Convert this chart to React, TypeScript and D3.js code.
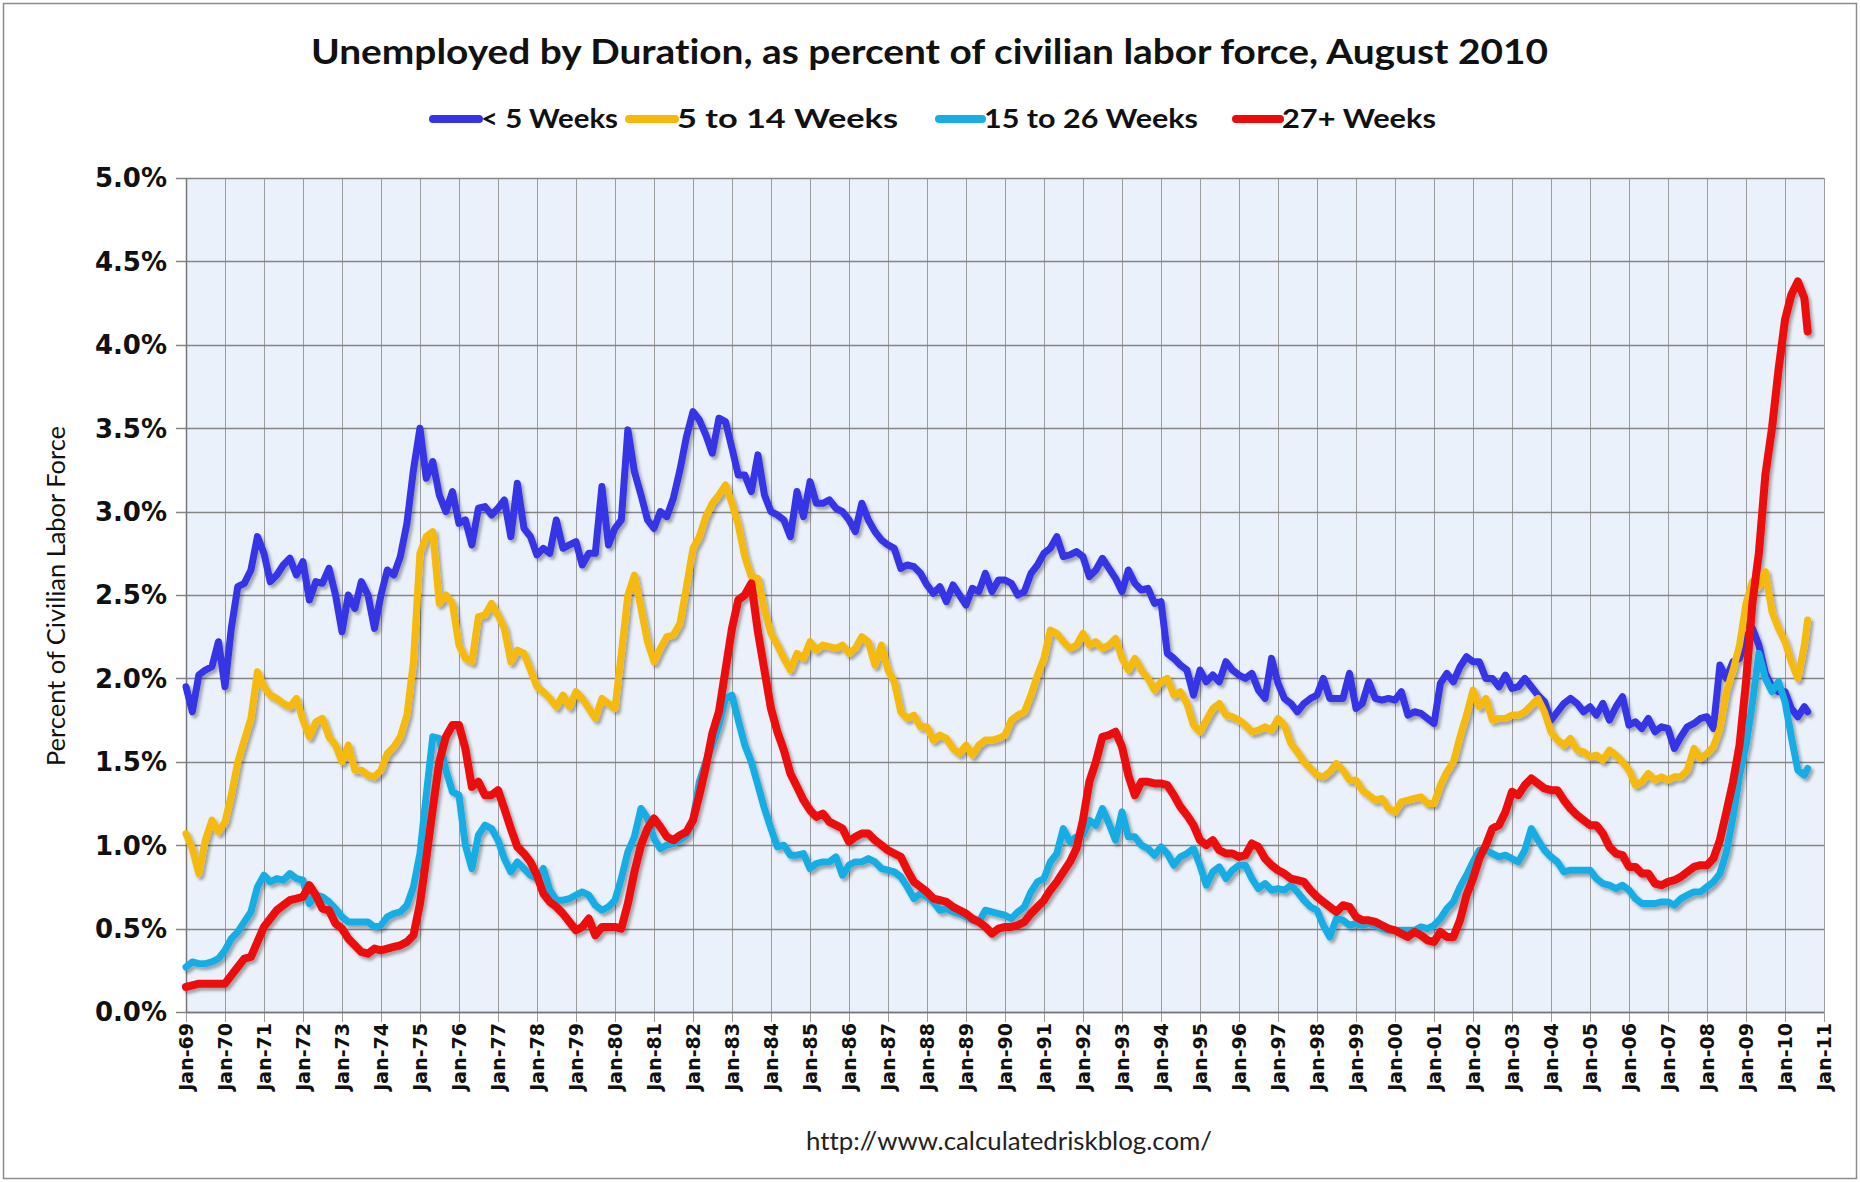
import React from 'react';
import * as d3 from 'd3';

const TITLE = 'Unemployed by Duration, as percent of civilian labor force, August 2010';
const Y_TITLE = 'Percent of Civilian Labor Force';
const SOURCE = 'http://www.calculatedriskblog.com/';
const SERIES_NAMES = ['< 5 Weeks', '5 to 14 Weeks', '15 to 26 Weeks', '27+ Weeks'];
const SERIES_COLORS = ['#3434e6', '#f6b90a', '#19ade5', '#ec0a0a'];
const Y_TICKS = [0, 0.5, 1, 1.5, 2, 2.5, 3, 3.5, 4, 4.5, 5];
const X_TICK_YEARS = [1969,1970,1971,1972,1973,1974,1975,1976,1977,1978,1979,1980,1981,1982,1983,1984,1985,1986,1987,1988,1989,1990,1991,1992,1993,1994,1995,1996,1997,1998,1999,2000,2001,2002,2003,2004,2005,2006,2007,2008,2009,2010,2011];

// Values every two months (Jan, Mar, May, Jul, Sep, Nov) from Jan 1969 to Jul 2010, last value = Aug 2010
const LT5_WEEKS = [
1.95,1.8,2.02,2.05,2.07,2.22, 1.95,2.3,2.55,2.57,2.65,2.85, 2.75,2.58,2.62,2.68,2.72,2.62, 2.7,2.47,2.58,2.57,2.66,2.5,
2.28,2.5,2.42,2.58,2.5,2.3, 2.5,2.65,2.62,2.73,2.93,3.25, 3.5,3.2,3.3,3.1,3.0,3.12, 2.93,2.95,2.8,3.02,3.03,2.98,
3.02,3.07,2.85,3.17,2.9,2.85, 2.74,2.78,2.75,2.95,2.78,2.8, 2.82,2.68,2.75,2.75,3.15,2.8, 2.9,2.95,3.49,3.24,3.1,2.95,
2.9,3.0,2.97,3.08,3.25,3.45, 3.6,3.55,3.46,3.35,3.56,3.54, 3.38,3.22,3.22,3.12,3.34,3.1, 3.0,2.98,2.95,2.85,3.12,2.97,
3.18,3.05,3.05,3.07,3.02,3.0, 2.95,2.88,3.05,2.95,2.88,2.83, 2.8,2.78,2.66,2.68,2.67,2.63, 2.56,2.51,2.55,2.46,2.56,2.5,
2.44,2.54,2.52,2.63,2.52,2.59, 2.59,2.57,2.5,2.52,2.63,2.68, 2.75,2.78,2.85,2.73,2.74,2.76, 2.73,2.61,2.65,2.72,2.66,2.6,
2.52,2.65,2.57,2.53,2.54,2.45, 2.46,2.15,2.12,2.08,2.05,1.9, 2.05,1.98,2.02,1.98,2.1,2.05, 2.02,2.0,2.03,1.93,1.88,2.12,
1.97,1.88,1.85,1.8,1.85,1.88, 1.9,2.0,1.88,1.88,1.88,2.03, 1.82,1.85,1.98,1.88,1.87,1.88, 1.87,1.92,1.78,1.8,1.79,1.76,
1.73,1.97,2.03,1.98,2.07,2.13, 2.1,2.1,2.0,2.0,1.95,2.02, 1.94,1.95,2.0,1.95,1.9,1.86, 1.75,1.8,1.85,1.88,1.85,1.8,
1.83,1.78,1.85,1.75,1.83,1.89, 1.72,1.74,1.7,1.76,1.68,1.71, 1.7,1.58,1.65,1.71,1.73,1.76, 1.77,1.7,2.08,2.0,2.1,2.12,
2.25,2.3,2.2,2.03,1.95,1.92, 1.92,1.82,1.77,1.83, 1.8
];
const W5_14 = [
1.07,0.98,0.83,1.03,1.15,1.08, 1.14,1.3,1.5,1.63,1.76,2.04, 1.95,1.9,1.88,1.85,1.83,1.88, 1.75,1.65,1.74,1.76,1.65,1.6,
1.5,1.6,1.45,1.45,1.42,1.41, 1.45,1.55,1.59,1.65,1.78,2.1, 2.75,2.85,2.88,2.45,2.5,2.45, 2.2,2.12,2.1,2.37,2.38,2.45,
2.38,2.3,2.1,2.17,2.15,2.05, 1.95,1.92,1.88,1.83,1.9,1.83, 1.92,1.88,1.82,1.76,1.88,1.85, 1.82,2.15,2.5,2.62,2.42,2.22,
2.1,2.18,2.25,2.26,2.33,2.55, 2.78,2.85,2.97,3.05,3.1,3.16, 3.05,2.92,2.73,2.61,2.6,2.41, 2.27,2.2,2.12,2.05,2.15,2.12,
2.22,2.17,2.2,2.19,2.18,2.2, 2.15,2.18,2.25,2.22,2.08,2.2, 2.05,1.98,1.8,1.76,1.78,1.71, 1.71,1.63,1.66,1.64,1.58,1.55,
1.6,1.54,1.6,1.63,1.63,1.64, 1.66,1.75,1.78,1.8,1.9,2.02, 2.12,2.29,2.27,2.22,2.18,2.2, 2.27,2.2,2.22,2.18,2.2,2.24,
2.12,2.05,2.12,2.05,2.0,1.93, 1.98,2.0,1.9,1.92,1.85,1.72, 1.68,1.75,1.82,1.85,1.78,1.77, 1.75,1.72,1.68,1.69,1.71,1.69,
1.76,1.72,1.61,1.56,1.5,1.46, 1.42,1.41,1.44,1.49,1.45,1.39, 1.39,1.33,1.3,1.27,1.28,1.22, 1.2,1.26,1.27,1.28,1.29,1.25,
1.25,1.36,1.44,1.5,1.65,1.78, 1.93,1.83,1.88,1.75,1.76,1.76, 1.78,1.78,1.8,1.84,1.88,1.8, 1.68,1.63,1.6,1.64,1.57,1.56,
1.53,1.54,1.51,1.57,1.54,1.5, 1.45,1.36,1.38,1.43,1.39,1.41, 1.39,1.41,1.41,1.45,1.58,1.52, 1.55,1.59,1.7,1.92,2.05,2.2,
2.45,2.58,2.55,2.64,2.4,2.3, 2.22,2.1,2.0,2.2, 2.35
];
const W15_26 = [
0.27,0.3,0.29,0.29,0.3,0.32, 0.37,0.44,0.48,0.54,0.6,0.75, 0.82,0.78,0.8,0.79,0.83,0.8, 0.79,0.65,0.7,0.69,0.66,0.62,
0.57,0.54,0.54,0.54,0.54,0.51, 0.52,0.57,0.59,0.6,0.64,0.75, 0.95,1.3,1.65,1.64,1.45,1.32, 1.3,1.0,0.86,1.06,1.12,1.1,
1.03,0.92,0.84,0.9,0.86,0.82, 0.8,0.86,0.73,0.67,0.67,0.68, 0.7,0.72,0.7,0.64,0.61,0.63, 0.67,0.8,0.96,1.05,1.22,1.16,
1.04,0.98,1.0,1.01,1.03,1.06, 1.15,1.38,1.5,1.6,1.72,1.88, 1.9,1.75,1.6,1.5,1.36,1.22, 1.1,0.99,1.0,0.94,0.94,0.95,
0.86,0.89,0.9,0.9,0.93,0.82, 0.88,0.9,0.9,0.92,0.9,0.86, 0.85,0.84,0.81,0.75,0.68,0.71, 0.69,0.66,0.61,0.62,0.6,0.59,
0.57,0.55,0.54,0.61,0.6,0.59, 0.58,0.56,0.6,0.63,0.72,0.78, 0.8,0.9,0.95,1.1,1.02,1.05, 1.06,1.15,1.12,1.22,1.13,1.03,
1.2,1.05,1.05,1.0,0.98,0.94, 0.99,0.95,0.88,0.93,0.95,0.98, 0.88,0.76,0.84,0.87,0.8,0.85, 0.88,0.88,0.8,0.74,0.77,0.73,
0.74,0.73,0.76,0.72,0.67,0.63, 0.61,0.52,0.45,0.56,0.55,0.52, 0.53,0.52,0.53,0.52,0.5,0.49, 0.49,0.49,0.49,0.49,0.51,0.5,
0.52,0.56,0.62,0.66,0.75,0.82, 0.9,0.97,0.97,0.95,0.93,0.94, 0.92,0.9,0.97,1.1,1.03,0.97, 0.93,0.9,0.84,0.85,0.85,0.85,
0.85,0.8,0.77,0.76,0.74,0.76, 0.73,0.68,0.65,0.65,0.65,0.66, 0.66,0.64,0.68,0.7,0.72,0.72, 0.75,0.78,0.83,0.96,1.17,1.42,
1.6,1.85,2.15,2.0,1.92,1.98, 1.86,1.65,1.45,1.42, 1.46
];
const W27_PLUS = [
0.15,0.16,0.17,0.17,0.17,0.17, 0.17,0.22,0.27,0.32,0.33,0.42, 0.51,0.56,0.61,0.64,0.67,0.68, 0.69,0.76,0.7,0.62,0.61,0.53,
0.5,0.44,0.4,0.36,0.35,0.38, 0.37,0.38,0.39,0.4,0.42,0.46, 0.65,0.92,1.22,1.5,1.65,1.72, 1.72,1.58,1.35,1.38,1.3,1.3,
1.33,1.22,1.1,0.99,0.95,0.9, 0.82,0.71,0.66,0.63,0.59,0.54, 0.49,0.51,0.56,0.46,0.51,0.51, 0.51,0.5,0.65,0.84,1.0,1.1,
1.16,1.11,1.05,1.03,1.06,1.08, 1.15,1.3,1.47,1.67,1.8,2.05, 2.3,2.47,2.5,2.57,2.28,2.05, 1.82,1.68,1.57,1.43,1.35,1.27,
1.21,1.17,1.19,1.14,1.12,1.1, 1.02,1.05,1.07,1.07,1.03,1.0, 0.97,0.95,0.93,0.85,0.78,0.75, 0.72,0.68,0.67,0.66,0.63,0.61,
0.59,0.56,0.54,0.51,0.47,0.5, 0.51,0.51,0.52,0.54,0.59,0.63, 0.67,0.73,0.78,0.84,0.9,0.98, 1.15,1.38,1.5,1.65,1.66,1.68,
1.59,1.42,1.3,1.38,1.38,1.37, 1.37,1.36,1.3,1.23,1.18,1.12, 1.03,1.0,1.03,0.97,0.95,0.95, 0.93,0.94,1.01,0.99,0.92,0.88,
0.85,0.83,0.8,0.79,0.78,0.73, 0.69,0.66,0.63,0.6,0.64,0.63, 0.57,0.55,0.55,0.54,0.52,0.5, 0.49,0.47,0.45,0.48,0.46,0.43,
0.42,0.48,0.45,0.45,0.55,0.7, 0.8,0.92,1.0,1.1,1.12,1.2, 1.32,1.3,1.36,1.4,1.37,1.34, 1.33,1.33,1.27,1.22,1.18,1.15,
1.12,1.12,1.07,0.99,0.95,0.94, 0.87,0.87,0.83,0.83,0.77,0.76, 0.78,0.79,0.81,0.84,0.87,0.88, 0.88,0.92,1.03,1.2,1.38,1.6,
1.98,2.45,2.75,3.22,3.5,3.85, 4.15,4.3,4.38,4.28, 4.08
];

const SERIES = [LT5_WEEKS, W5_14, W15_26, W27_PLUS];

const W = 1860, H = 1182;
const M = { left: 186, right: 1824, top: 178, bottom: 1012 };

const dateOf = (i: number, n: number) => (i === n - 1 ? new Date(2010, 7, 1) : new Date(1969, 2 * i, 1));

export default function App() {
  const x = d3.scaleTime().domain([new Date(1969, 0, 1), new Date(2011, 0, 1)]).range([M.left, M.right]);
  const y = d3.scaleLinear().domain([0, 5]).range([M.bottom, M.top]);
  const line = d3.line<number>()
    .x((_, i, arr) => x(dateOf(i, (arr as number[]).length)))
    .y((d) => y(d));
  const fmt = (v: number) => v.toFixed(1) + '%';
  const yearLabel = (yr: number) => 'Jan-' + String(yr % 100).padStart(2, '0');
  const legendItems = [
    { lx: 433, tx: 481 },
    { lx: 629, tx: 677 },
    { lx: 939, tx: 984 },
    { lx: 1236, tx: 1282 },
  ];
  const legendWidths = [137, 221, 214, 154];
  const noLig = { fontVariantLigatures: 'none' as const };

  return (
    <svg width={W} height={H} style={{ position: 'absolute', left: 0, top: 0, background: '#fff' }}>
      <defs>
        <filter id="sh" filterUnits="userSpaceOnUse" x={0} y={0} width={W} height={H}>
          <feDropShadow dx={2.5} dy={3} stdDeviation={1.8} floodColor="#000" floodOpacity={0.32} />
        </filter>
      </defs>
      <rect x={3.5} y={3.5} width={W - 7} height={H - 7} fill="#fff" stroke="#8c8c8c" strokeWidth={1.5} />
      <text x={(311 + 1548) / 2} y={64} textAnchor="middle" style={noLig} fontFamily="Lato, 'Open Sans', sans-serif" fontWeight={700} fontSize={35} textLength={1237} lengthAdjust="spacingAndGlyphs" fill="#111">{TITLE}</text>
      {SERIES_NAMES.map((n, i) => (
        <g key={n}>
          <line x1={legendItems[i].lx} x2={legendItems[i].tx - 2} y1={119} y2={119} stroke={SERIES_COLORS[i]} strokeWidth={8} strokeLinecap="round" />
          <text x={legendItems[i].tx} y={128} style={noLig} fontFamily="Lato, 'Open Sans', sans-serif" fontWeight={700} fontSize={26} textLength={legendWidths[i]} lengthAdjust="spacingAndGlyphs" fill="#111">{n}</text>
        </g>
      ))}
      <rect x={M.left} y={M.top} width={M.right - M.left} height={M.bottom - M.top} fill="#ebf1fa" />
      {X_TICK_YEARS.map((yr) => {
        const xx = Math.round(x(new Date(yr, 0, 1))) + 0.5;
        return <line key={'vg' + yr} x1={xx} x2={xx} y1={M.top} y2={M.bottom + 10} stroke="#9c9c9c" strokeWidth={1} />;
      })}
      {Y_TICKS.map((t) => {
        const yy = Math.round(y(t)) + 0.5;
        return <line key={'hg' + t} x1={M.left - 10} x2={M.right} y1={yy} y2={yy} stroke="#858585" strokeWidth={1.3} />;
      })}
      <line x1={M.left + 0.5} x2={M.left + 0.5} y1={M.top} y2={M.bottom} stroke="#777" strokeWidth={1.5} />
      <line x1={M.left} x2={M.right} y1={M.bottom + 0.5} y2={M.bottom + 0.5} stroke="#777" strokeWidth={1.5} />
      {Y_TICKS.map((t) => (
        <text key={'yl' + t} x={167} y={y(t)} dy="0.36em" textAnchor="end" fontFamily="'DejaVu Sans', Verdana, sans-serif" fontWeight={700} fontSize={26} fill="#111">{fmt(t)}</text>
      ))}
      {X_TICK_YEARS.map((yr) => {
        const xx = x(new Date(yr, 0, 1));
        return (
          <text key={'xl' + yr} transform={`translate(${xx},1023) rotate(-90)`} dy="0.36em" textAnchor="end" fontFamily="'DejaVu Sans', Verdana, sans-serif" fontWeight={700} fontSize={19} fill="#111">{yearLabel(yr)}</text>
        );
      })}
      <text transform={`translate(56,596) rotate(-90)`} dy="0.36em" textAnchor="middle" style={noLig} fontFamily="Lato, 'Open Sans', sans-serif" fontSize={25} textLength={340} lengthAdjust="spacingAndGlyphs" fill="#111">{Y_TITLE}</text>
      <text x={1009} y={1150} textAnchor="middle" style={noLig} fontFamily="Lato, 'Open Sans', sans-serif" fontSize={25} textLength={406} lengthAdjust="spacingAndGlyphs" fill="#222">{SOURCE}</text>
      <g filter="url(#sh)">
        {SERIES.map((s, i) => (
          <path key={'s' + i} d={line(s) || ''} fill="none" stroke={SERIES_COLORS[i]} strokeWidth={i === 3 ? 8 : 7} strokeLinejoin="round" strokeLinecap="round" />
        ))}
      </g>
    </svg>
  );
}
